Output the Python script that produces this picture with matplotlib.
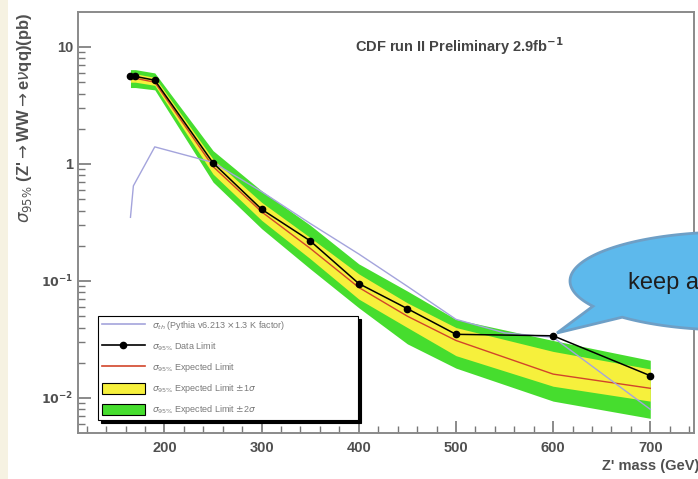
import numpy as np
import matplotlib
matplotlib.use('Agg')
import matplotlib.pyplot as plt
from matplotlib.patches import Polygon, Rectangle
from matplotlib.lines import Line2D
from matplotlib.patches import Patch

plt.rcParams['font.family'] = ['Liberation Sans', 'DejaVu Sans']

# Z' mass points (GeV) and limits (pb)
mass = [165, 170, 190, 250, 300, 350, 400, 450, 500, 600, 700]
observed = [5.6, 5.6, 5.2, 1.02, 0.41, 0.22, 0.095, 0.058, 0.035, 0.034, 0.0155]
expected = [5.4, 5.4, 5.0, 0.95, 0.39, 0.19, 0.088, 0.05, 0.031, 0.016, 0.0121]
exp1_lo = [5.0, 5.0, 4.7, 0.82, 0.33, 0.155, 0.07, 0.04, 0.023, 0.0126, 0.0094]
exp1_hi = [5.9, 5.9, 5.5, 1.1, 0.47, 0.235, 0.115, 0.065, 0.04, 0.025, 0.0177]
exp2_lo = [4.5, 4.5, 4.3, 0.7, 0.28, 0.127, 0.059, 0.029, 0.018, 0.0094, 0.0067]
exp2_hi = [6.4, 6.4, 6.0, 1.3, 0.59, 0.30, 0.14, 0.082, 0.047, 0.031, 0.021]

# theory curve (Pythia x 1.3 K factor)
mass_th = [165, 168, 190, 250, 300, 350, 400, 450, 500, 550, 600, 700]
theory = [0.35, 0.65, 1.4, 1.03, 0.58, 0.31, 0.17, 0.09, 0.047, 0.036, 0.033, 0.008]

leg_labels = [r"$\sigma_{th}$ (Pythia v6.213 $\times$1.3 K factor)",
              r"$\sigma_{95\%}$ Data Limit",
              r"$\sigma_{95\%}$ Expected Limit",
              r"$\sigma_{95\%}$ Expected Limit $\pm$1$\sigma$",
              r"$\sigma_{95\%}$ Expected Limit $\pm$2$\sigma$"]

W, H = 698, 479
fig = plt.figure(figsize=(W/100, H/100), dpi=100)
fig.patch.set_facecolor('white')
# beige slide strip at left
fig.patches.append(Rectangle((0, 0), 8/W, 1, transform=fig.transFigure,
                             facecolor='#f6f2e2', edgecolor='none', zorder=0))

ax = fig.add_axes([78/W, (H-433)/H, 616/W, 421/H])
gc = '#777777'
tc = '#505050'

ax.fill_between(mass, exp2_lo, exp2_hi, color='#46dd2e', lw=0, zorder=1)
ax.fill_between(mass, exp1_lo, exp1_hi, color='#f6f03c', lw=0, zorder=2)
ax.plot(mass, expected, color='#d2452a', lw=1.0, zorder=3)
ax.plot(mass_th, theory, color='#a4a4dc', lw=1.0, zorder=4)
ax.plot(mass, observed, color='black', lw=1.1, marker='o', ms=4.5, zorder=5)

ax.set_yscale('log')
ax.set_xlim(111, 745)
ax.set_ylim(0.00502, 19.9)

ax.set_xticks([200, 300, 400, 500, 600, 700])
ax.set_xticks(np.arange(120, 745, 20), minor=True)
ax.set_yticks([0.01, 0.1, 1, 10])
ax.set_yticklabels([r'$\mathbf{10^{-2}}$', r'$\mathbf{10^{-1}}$', '1', '10'])
ax.tick_params(which='both', direction='in', colors=gc, labelcolor=tc,
               labelsize=10.5, top=False, right=False)
ax.tick_params(which='major', length=9, width=1.2)
ax.tick_params(which='minor', length=5, width=1.0)
ax.tick_params(axis='x', pad=6)
for lab in ax.get_xticklabels() + ax.get_yticklabels():
    lab.set_fontweight('bold')
for lab in ax.get_yticklabels()[:2]:
    lab.set_fontsize(9)

for sp in ax.spines.values():
    sp.set_color('#8a8a8a')
    sp.set_linewidth(1.4)

ax.text(0.45, 0.905, r"CDF run II Preliminary 2.9fb$^{\mathbf{-1}}$", transform=ax.transAxes,
        fontsize=10.5, fontweight='bold', color='#444444')

fig.text(25/W, 1 - 13/H, r"$\sigma_{95\%}$ (Z'$\rightarrow$WW$\rightarrow$e$\nu$qq)(pb)",
         rotation=90, ha='center', va='top', fontsize=12, fontweight='bold', color=tc)
fig.text(699/W, 1 - 466/H, "Z' mass (GeV)", ha='right', va='center',
         fontsize=10.5, fontweight='bold', color=tc)

handles = [Line2D([], [], color='#a4a4dc', lw=1.2),
           Line2D([], [], color='black', lw=1.2, marker='o', ms=4.5),
           Line2D([], [], color='#d2452a', lw=1.2),
           Patch(facecolor='#f6f03c', edgecolor='black', lw=0.8),
           Patch(facecolor='#46dd2e', edgecolor='black', lw=0.8)]
leg = ax.legend(handles, leg_labels, loc='lower left',
                bbox_to_anchor=((98-78)/616, (433-420)/421, 260/616, 107/421),
                mode='expand', fontsize=6.5, labelcolor='#7a7a7a',
                frameon=True, fancybox=False, edgecolor='black',
                shadow={'color': 'black', 'alpha': 1.0},
                handlelength=4.8, handleheight=1.5, labelspacing=0.9,
                borderaxespad=0, borderpad=0.4, handletextpad=0.8)
leg.get_frame().set_linewidth(0.8)
leg.set_zorder(10)

# speech bubble overlay
ov = fig.add_axes([0, 0, 1, 1], facecolor='none')
ov.set_xlim(0, W)
ov.set_ylim(H, 0)
ov.axis('off')
cx, cy, a, b = 730, 281, 160, 49
t = np.linspace(2.60, 2.31 + 2*np.pi, 200)
pts = np.column_stack([cx + a*np.cos(t), cy + b*np.sin(t)])
pts = np.vstack([pts, [[557, 333]]])
ov.add_patch(Polygon(pts, closed=True, facecolor='#5db9ec', edgecolor='#6e9fc6',
                     lw=2.0, zorder=20))
ov.text(628, 283, "keep a", fontsize=17, color='#1e1e1e', va='center', ha='left',
        zorder=21)

fig.savefig('out.png', dpi=100)
